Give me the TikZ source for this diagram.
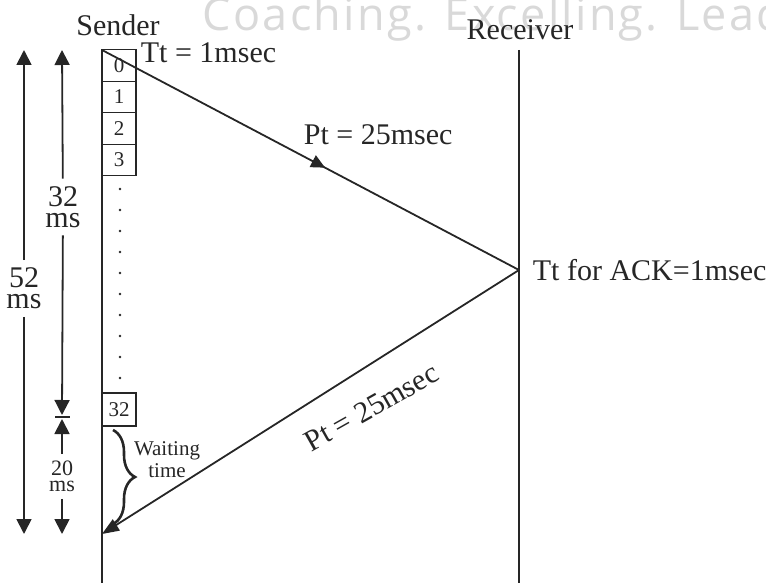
\documentclass[tikz,border=0pt]{standalone}
\usepackage{fontspec}
\setmainfont{Liberation Serif}
\newfontfamily\markfont{Open Sans}[LetterSpace=5]
\usetikzlibrary{arrows.meta,decorations.markings,decorations.pathreplacing,positioning}

\begin{document}
\begin{tikzpicture}[x=1pt,y=-1pt,line width=1.8pt,color=black!85,
    lbl/.style={font=\fontsize{30}{32}\selectfont, inner sep=0pt},
    frame/.style={draw, line width=1.3pt, minimum width=34pt, minimum height=31.5pt,
      inner sep=0pt, font=\fontsize{21}{21}\selectfont},
    span/.style={align=center, inner xsep=1pt, inner ysep=7pt, font=\fontsize{30}{21}\selectfont},
    tip/.style={-{Triangle[length=15pt,width=15pt]}}]
    \useasboundingbox (0,0) rectangle (766,583);

    % watermark
    \node[anchor=base west, inner sep=0pt, text=black!15,
      font=\markfont\fontsize{45}{45}\selectfont] (mark) at (202,31) {Coaching. Excelling. Leading.};

    % the two ends
    \node[lbl] (sender) at (118,25) {Sender};
    \node[lbl, anchor=base] (receiver) at (520,40) {Receiver};
    \coordinate (stop) at (102,50);
    \coordinate (sbot) at (102,583);
    \coordinate (rtop) at (519,50);
    \coordinate (rbot) at (519,583);
    \draw (stop) -- (sbot);
    \draw (rtop) -- (rbot);

    % frames
    \foreach \n in {0,...,3}
        \node[frame] (f\n) at (119,65.5+31.5*\n) {\n};
    \foreach \k in {0,...,9}
        \fill (120,189+21*\k) circle (1.3pt);
    \node[frame, minimum height=33pt] (f32) at (119,409.5) {32};

    % data and ack
    \coordinate (rx) at (519,270);
    \coordinate (back) at (102,534);
    \draw[postaction={decorate}, decoration={markings, mark=at position 0.535 with
        {\arrow{Triangle[length=14pt,width=13pt]}}}] (stop) -- (rx);
    \draw[-{Triangle[length=17pt,width=13pt]}] (rx) -- (back)
        node[lbl, pos=0.40, sloped, below=26pt, rotate=-3] (pt2) {Pt = 25msec};
    \node[lbl, anchor=base west] (tt) at (140,63) {Tt = 1msec};
    \node[lbl, anchor=base west] (pt) at (303,145) {Pt = 25msec};
    \node[lbl, anchor=base west] (ack) at (532,280) {Tt for ACK=1msec};

    % waiting time
    \draw[decorate, decoration={brace, amplitude=22pt}, line width=2.6pt]
        (113,430) -- (113,524);
    \node[align=center, inner sep=0pt, font=\fontsize{21}{22}\selectfont] (wait) at (167,460) {Waiting\\time};

    % time spans
    \node[span] (d52) at (24,288.5) {52\\ms};
    \coordinate (d52a) at (24,50);
    \coordinate (d52b) at (24,534);
    \draw[tip] (d52) -- (d52a);
    \draw[tip] (d52) -- (d52b);

    \node[span] (d32) at (63,207) {32\\ms};
    \coordinate (d32a) at (62,50);
    \coordinate (d32b) at (62,415);
    \draw[tip] (d32) -- (d32a);
    \draw[tip] (d32) -- (d32b);
    \coordinate (barl) at (55,417);
    \coordinate (barr) at (70,417);
    \draw (barl) -- (barr);

    \node[span, inner ysep=6pt, font=\fontsize{22}{16}\selectfont] (d20) at (62,476.5) {20\\ms};
    \coordinate (d20a) at (62,419);
    \coordinate (d20b) at (62,534);
    \draw[tip] (d20) -- (d20a);
    \draw[tip] (d20) -- (d20b);
\end{tikzpicture}
\end{document}
